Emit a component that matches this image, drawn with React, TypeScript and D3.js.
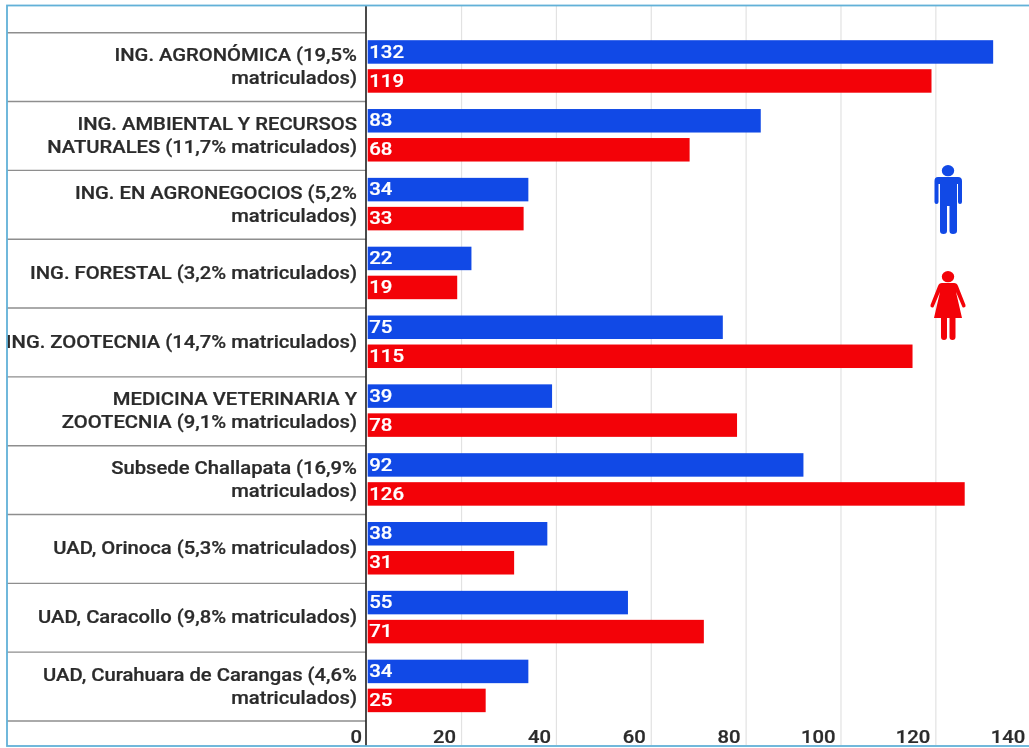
import React from "react";
import * as d3 from "d3";

const categoryLines: string[][] = [
  ["ING. AGRONÓMICA (19,5%", "matriculados)"],
  ["ING. AMBIENTAL Y RECURSOS", "NATURALES (11,7% matriculados)"],
  ["ING. EN AGRONEGOCIOS (5,2%", "matriculados)"],
  ["ING. FORESTAL (3,2% matriculados)"],
  ["ING. ZOOTECNIA (14,7% matriculados)"],
  ["MEDICINA VETERINARIA Y", "ZOOTECNIA (9,1% matriculados)"],
  ["Subsede Challapata (16,9%", "matriculados)"],
  ["UAD, Orinoca (5,3% matriculados)"],
  ["UAD, Caracollo (9,8% matriculados)"],
  ["UAD, Curahuara de Carangas (4,6%", "matriculados)"],
];
const men = [132, 83, 34, 22, 75, 39, 92, 38, 55, 34];
const women = [119, 68, 33, 19, 115, 78, 126, 31, 71, 25];
const ticks = [0, 20, 40, 60, 80, 100, 120, 140];

const BLUE = "#1149e6";
const RED = "#f30208";
const FONT = "Roboto, sans-serif";
const SX = 1.1;

function T({ x, y, anchor, size, fill, children }: any) {
  return (
    <text
      transform={`translate(${x},${y}) scale(${SX},1)`}
      textAnchor={anchor}
      fontSize={size}
      fontWeight={500}
      fill={fill}
      stroke={fill}
      strokeWidth={0.25}
    >
      {children}
    </text>
  );
}

export default function App() {
  const x = d3.scaleLinear().domain([0, 140]).range([366.7, 1030.7]);
  const idx = d3.range(categoryLines.length);
  const y = d3.scaleBand<number>().domain(idx).range([32.7, 721]);
  const sub = d3.scaleBand<string>().domain(["m", "w"]).range([7.5, 60]).paddingInner(0.19).paddingOuter(0);
  const h = sub.bandwidth();
  const rowLines = [...idx.map((i) => y(i)!), 721];

  return (
    <svg
      width={1029}
      height={748}
      style={{ position: "absolute", left: 0, top: 0, background: "#fff", filter: "blur(0.45px)" }}
      fontFamily={FONT}
    >
      {ticks.slice(1).map((t) => (
        <line key={t} x1={x(t)} x2={x(t)} y1={6} y2={745} stroke="#e2e2e2" strokeWidth={1.2} />
      ))}
      {rowLines.map((ly) => (
        <line key={ly} x1={7} x2={366} y1={ly} y2={ly} stroke="#8e8e8e" strokeWidth={1.4} />
      ))}
      {idx.map((i) => {
        const lines = categoryLines[i];
        const cy = y(i)! + y.bandwidth() / 2;
        const start = cy - ((lines.length - 1) * 23) / 2 + 5.5;
        return (
          <g key={i}>
            {lines.map((l, k) => (
              <T key={k} x={357} y={start + k * 23} anchor="end" size={18.4} fill="#2b2b2b">
                {l}
              </T>
            ))}
            {(["m", "w"] as const).map((s) => {
              const v = s === "m" ? men[i] : women[i];
              const by = y(i)! + sub(s)!;
              return (
                <g key={s}>
                  <rect x={x(0) + 1} y={by} width={x(v) - x(0) - 0.6} height={h} fill={s === "m" ? BLUE : RED} />
                  <T x={x(0) + 2.5} y={by + h / 2 + 5.6} anchor="start" size={18.6} fill="#fff">
                    {v}
                  </T>
                </g>
              );
            })}
          </g>
        );
      })}
      {ticks.map((t) => (
        <T key={t} x={t === 0 ? 362 : x(t) - 5.5} y={743} anchor="end" size={18.4} fill="#2b2b2b">
          {t}
        </T>
      ))}
      <line x1={366} x2={366} y1={6} y2={746} stroke="#2b2b2b" strokeWidth={1.7} />
      <rect x={7} y={5.5} width={1030} height={740.5} fill="none" stroke="#62b1d8" strokeWidth={1.8} />
      <g fill={BLUE}>
        <ellipse cx={948} cy={170.7} rx={6.2} ry={5.6} />
        <path d="M938 177H958Q962 177 962 181V202Q962 204 960 204Q958 204 958 202V184H957V231Q957 234 953 234Q949.500 234 949.500 231V206H947V231Q947 234 943.500 234Q940 234 940 231V184H938.500V202Q938.500 204 936.500 204Q934.500 204 934.500 202V181Q934.500 177 938 177Z" />
      </g>
      <g fill={RED}>
        <ellipse cx={948} cy={276.700} rx={6.200} ry={5.600} />
        <path d="M942 283H954Q957 283 958 286L965.500 305Q966 307 964 307.500Q962.500 308 962 306L956 292L962 318H955.500V337Q955.500 340 952.500 340Q949.500 340 949.500 337V318H947V337Q947 340 944 340Q941 340 941 337V318H934L940 292L934 306Q933.500 308 932 307.500Q930 307 930.500 305L938 286Q939 283 942 283Z" />
      </g>
    </svg>
  );
}
